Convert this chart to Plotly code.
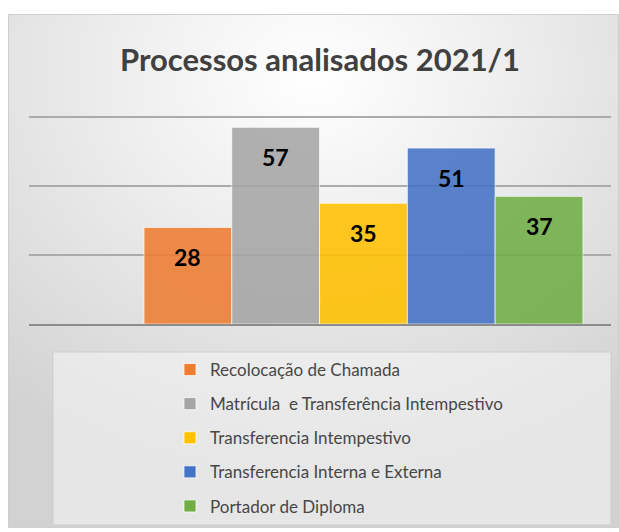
import base64
import plotly.graph_objects as go

# ---- data ----
categories = [
    "Recolocação de Chamada",
    "Matrícula  e Transferência Intempestivo",
    "Transferencia Intempestivo",
    "Transferencia Interna e Externa",
    "Portador de Diploma",
]
values = [28, 57, 35, 51, 37]
colors = ["#ED7D31", "#A5A5A5", "#FFC000", "#4472C4", "#70AD47"]
title_text = "Processos analisados 2021/1"

W, H = 619, 532
FONT = "Lato, Roboto, Liberation Sans, sans-serif"

fig = go.Figure()
for i, (name, v, c) in enumerate(zip(categories, values, colors)):
    fig.add_trace(go.Bar(
        x=[i], y=[v], name=name, legendgroup=name,
        width=1.0,
        marker=dict(color=c, opacity=0.88,
                    line=dict(color="rgba(255,255,255,0.7)", width=1)),
        hoverinfo="skip",
    ))
    fig.add_annotation(x=i, y=v, text=str(v), showarrow=False,
                       yanchor="middle", yshift=-30,
                       font=dict(family=FONT, size=23, color="#000000",
                                 weight="bold"))

# background radial gradient (svg)
svg = (
    '<svg xmlns="http://www.w3.org/2000/svg" width="611" height="514" viewBox="0 0 611 514">'
    '<defs><radialGradient id="g" cx="50%" cy="12%" r="80%" fx="50%" fy="12%">'
    '<stop offset="0" stop-color="#ffffff"/>'
    '<stop offset="0.35" stop-color="#f0f0f0"/>'
    '<stop offset="1" stop-color="#d2d2d2"/>'
    '</radialGradient></defs>'
    '<rect x="0" y="0" width="611" height="514" fill="url(#g)"/>'
    '<rect x="0.5" y="0.5" width="610" height="513" fill="none" stroke="#cfcfcf" stroke-width="1"/>'
    '</svg>'
)
src = "data:image/svg+xml;base64," + base64.b64encode(svg.encode()).decode()
fig.add_layout_image(dict(source=src, xref="paper", yref="paper",
                          x=8 / W, y=1 - 14 / H, sizex=611 / W, sizey=514 / H,
                          xanchor="left", yanchor="top", sizing="stretch",
                          layer="below"))

# legend box
fig.add_shape(type="rect", xref="paper", yref="paper",
              x0=53 / W, x1=611 / W, y0=1 - 525 / H, y1=1 - 352 / H,
              fillcolor="rgba(245,245,245,0.55)",
              line=dict(color="rgba(200,200,200,0.7)", width=1),
              layer="below")

PX_PER_UNIT = 207 / 60
YMAX = 61
fig.update_layout(
    width=W, height=H,
    margin=dict(l=0, r=0, t=0, b=0),
    paper_bgcolor="#ffffff",
    plot_bgcolor="rgba(0,0,0,0)",
    barmode="overlay",
    title=dict(text=title_text, x=320 / W, xanchor="center",
               y=1 - 60 / H, yanchor="middle",
               font=dict(family=FONT, size=31, color="#404040", weight="bold")),
    xaxis=dict(domain=[29 / W, 611 / W], range=[-1.81, 4.82],
               showticklabels=False, showgrid=False, zeroline=False,
               showline=True, linecolor="#8c8c8c", linewidth=2,
               ticks=""),
    yaxis=dict(domain=[1 - 324 / H, 1 - (324 - YMAX * PX_PER_UNIT) / H],
               range=[0, YMAX],
               dtick=20, showticklabels=False, showgrid=True,
               gridcolor="#ababab", gridwidth=1.5, zeroline=False,
               showline=False, ticks=""),
    showlegend=True,
    legend=dict(x=170 / W, xanchor="left", y=1 - 352 / H, yanchor="top",
                bgcolor="rgba(0,0,0,0)", tracegroupgap=9,
                font=dict(family=FONT, size=17, color="#474747"),
                traceorder="grouped"),
)

fig.write_html("out.html", config={"displayModeBar": False},
               post_script="document.body.style.margin='0';")
